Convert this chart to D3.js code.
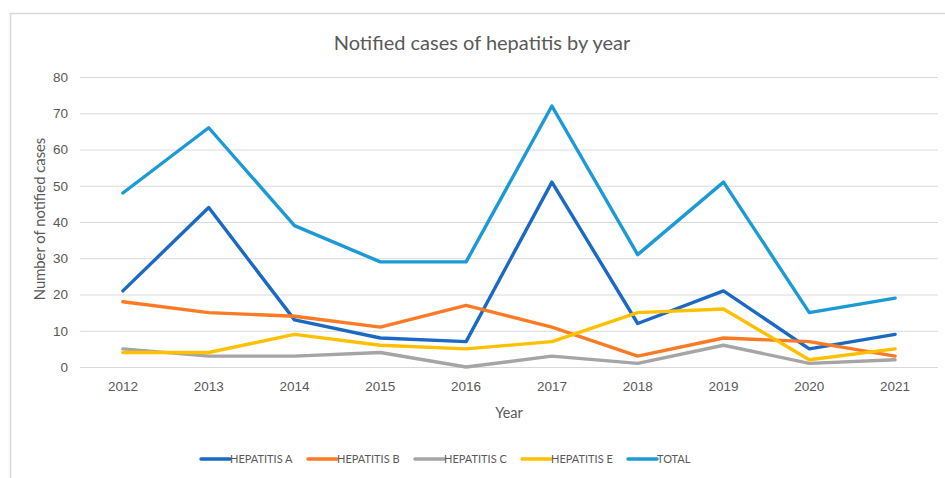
<!DOCTYPE html>
<html>
<head>
    <meta charset="utf-8">
    <style>
        body { margin: 0; background: #fff; }
        svg { display: block; font-family: Lato, 'Open Sans', Arial, sans-serif; }
        .tick text { fill: #595959; font-size: 13.5px; }
    </style>
</head>
<body>
<svg width="945" height="478"></svg>
<script src="https://d3js.org/d3.v7.min.js"></script>
<script>
    let width = 945;
    let height = 478;
    let svg = d3.select("svg");

    let years = ["2012", "2013", "2014", "2015", "2016", "2017", "2018", "2019", "2020", "2021"];
    let hepA = [21, 44, 13, 8, 7, 51, 12, 21, 5, 9];
    let hepB = [18, 15, 14, 11, 17, 11, 3, 8, 7, 3];
    let hepC = [5, 3, 3, 4, 0, 3, 1, 6, 1, 2];
    let hepE = [4, 4, 9, 6, 5, 7, 15, 16, 2, 5];
    let total = [48, 66, 39, 29, 29, 72, 31, 51, 15, 19];
    let seriesNames = ["HEPATITIS A", "HEPATITIS B", "HEPATITIS C", "HEPATITIS E", "TOTAL"];
    let colors = ["#1c69c4", "#fb7b24", "#a5a5a5", "#ffc000", "#1b9ad5"];
    let yTicks = [0, 10, 20, 30, 40, 50, 60, 70, 80];

    let series = [hepA, hepB, hepC, hepE, total];

    let margin = { top: 77, right: 7, bottom: 111, left: 80 };

    // chart frame
    svg.append("path")
        .attr("d", `M10.5,${height} V13.5 H${width}`)
        .attr("fill", "none")
        .attr("stroke", "#d9d9d9")
        .attr("stroke-width", 1.5);

    let x = d3.scaleBand()
        .domain(years)
        .range([margin.left, width - margin.right]);

    let y = d3.scaleLinear()
        .domain([0, 80])
        .range([height - margin.bottom, margin.top]);

    // gridlines + y labels
    let yAxis = svg.append("g")
        .attr("transform", `translate(${margin.left},0)`)
        .call(d3.axisLeft(y).tickValues(yTicks).tickSize(-(width - margin.left - margin.right)).tickPadding(12));
    yAxis.select(".domain").remove();
    yAxis.selectAll(".tick line").attr("stroke", "#d9d9d9").attr("stroke-width", 1.2);

    let xAxis = svg.append("g")
        .attr("transform", `translate(0,${height - margin.bottom})`)
        .call(d3.axisBottom(x).tickSize(0).tickPadding(14));
    xAxis.select(".domain").remove();

    // title
    svg.append("text")
        .attr("x", 482)
        .attr("y", 50)
        .attr("text-anchor", "middle")
        .attr("fill", "#595959")
        .attr("font-size", "20px")
        .text("Notified cases of hepatitis by year");

    svg.append("text")
        .attr("x", (margin.left + width - margin.right) / 2)
        .attr("y", 418)
        .attr("text-anchor", "middle")
        .attr("fill", "#595959")
        .attr("font-size", "14.5px")
        .text("Year");

    svg.append("text")
        .attr("transform", `translate(45,${(y(0) + y(80)) / 2 - 3}) rotate(-90)`)
        .attr("text-anchor", "middle")
        .attr("fill", "#595959")
        .attr("font-size", "14.8px")
        .text("Number of notified cases");

    let line = d3.line()
        .x((d, i) => x(years[i]) + x.bandwidth() / 2)
        .y(d => y(d));

    svg.append("g")
        .selectAll("path")
        .data(series)
        .join("path")
        .attr("d", d => line(d))
        .attr("fill", "none")
        .attr("stroke", (d, i) => colors[i])
        .attr("stroke-width", 3.4)
        .attr("stroke-linejoin", "round")
        .attr("stroke-linecap", "round");

    // legend
    let legendX = [201, 308, 415, 522, 628];
    let legend = svg.append("g")
        .selectAll("g")
        .data(seriesNames)
        .join("g")
        .attr("transform", (d, i) => `translate(${legendX[i]},459)`);

    legend.append("line")
        .attr("x1", 0).attr("x2", 29)
        .attr("stroke", (d, i) => colors[i])
        .attr("stroke-width", 3.4)
        .attr("stroke-linecap", "round");

    legend.append("text")
        .attr("x", 29)
        .attr("dy", "0.35em")
        .attr("fill", "#595959")
        .attr("font-size", "11px")
        .text(d => d);
</script>
</body>
</html>
